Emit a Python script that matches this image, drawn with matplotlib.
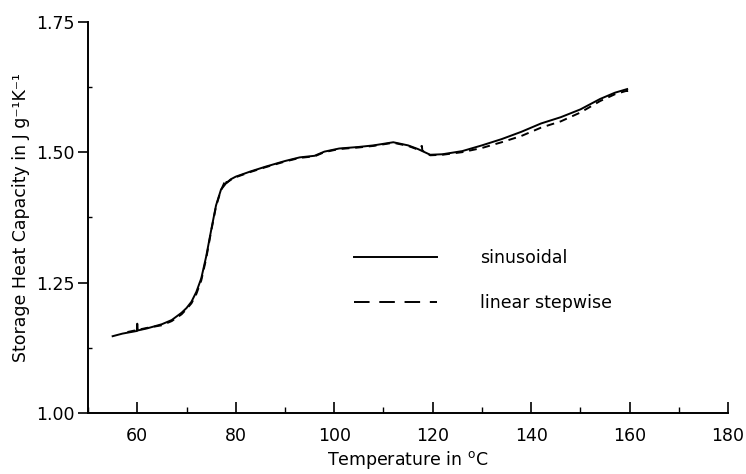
import matplotlib
matplotlib.use("Agg")
import matplotlib.pyplot as plt
from matplotlib.lines import Line2D
from matplotlib.ticker import MultipleLocator

# --- data ---
temp_sin = [55, 57, 59.9, 60, 60.1, 62, 65, 67, 69, 70, 71, 72, 73, 74, 75, 76, 77, 78,
            79, 80, 83, 86, 90, 93, 96, 98, 101, 105, 108, 112, 115, 117, 119.5, 122,
            126, 130, 134, 138, 142, 146, 150, 154, 157, 159.5]
cp_sin = [1.147, 1.152, 1.157, 1.171, 1.158, 1.162, 1.170, 1.178, 1.192, 1.201, 1.213,
          1.232, 1.258, 1.300, 1.350, 1.398, 1.428, 1.440, 1.448, 1.453, 1.463, 1.472,
          1.483, 1.490, 1.493, 1.501, 1.507, 1.510, 1.513, 1.519, 1.513, 1.506, 1.495,
          1.496, 1.502, 1.513, 1.525, 1.539, 1.555, 1.567, 1.582, 1.602, 1.614, 1.621]

temp_step = [58, 60, 62, 65, 67, 69, 70, 71, 72, 73, 74, 75, 76, 77, 78, 78.1, 79, 80,
             83, 86, 90, 93, 96, 98, 101, 105, 108, 112, 115, 117, 117.8, 117.9, 119.5,
             122, 126, 130, 134, 138, 142, 146, 150, 154, 157, 159.5, 159.6]
cp_step = [1.155, 1.159, 1.163, 1.168, 1.176, 1.189, 1.199, 1.210, 1.228, 1.254, 1.296,
           1.348, 1.396, 1.427, 1.448, 1.441, 1.447, 1.452, 1.462, 1.471, 1.482, 1.489,
           1.492, 1.500, 1.506, 1.509, 1.512, 1.518, 1.512, 1.505, 1.512, 1.503, 1.494,
           1.495, 1.500, 1.508, 1.519, 1.531, 1.547, 1.559, 1.576, 1.598, 1.611, 1.618,
           1.606]

labels = ["sinusoidal", "linear stepwise"]
xticks = [60, 80, 100, 120, 140, 160, 180]
yticks = [1.00, 1.25, 1.50, 1.75]

plt.rcParams['font.family'] = ['DejaVu Sans']
fig = plt.figure(figsize=(7.46, 4.74), dpi=100)
ax = fig.add_axes([0.118, 0.129, 0.858, 0.825])

ax.plot(temp_sin, cp_sin, color='black', lw=1.4, solid_joinstyle='round')
ax.plot(temp_step, cp_step, color='black', lw=1.4, dashes=(4, 3))

ax.set_xlim(50, 180)
ax.set_ylim(1.0, 1.75)
ax.set_xticks(xticks)
ax.set_yticks(yticks)
ax.set_yticklabels([f"{v:.2f}" for v in yticks])
ax.xaxis.set_minor_locator(MultipleLocator(10))
ax.yaxis.set_minor_locator(MultipleLocator(0.125))
ax.tick_params(axis='x', which='major', direction='in', length=8, width=1.2,
               labelsize=12.5, pad=10)
ax.tick_params(axis='x', which='minor', direction='in', length=4, width=1.0)
ax.tick_params(axis='y', which='major', direction='out', length=7, width=1.2,
               labelsize=12.5, pad=3)
ax.tick_params(axis='y', which='minor', direction='in', length=3, width=1.0)

for s in ['top', 'right']:
    ax.spines[s].set_visible(False)
for s in ['left', 'bottom']:
    ax.spines[s].set_linewidth(1.4)

ax.set_xlabel(r'Temperature in $^{\mathrm{o}}$C', fontsize=12.5, labelpad=3)
ax.set_ylabel('Storage Heat Capacity in J g\u207b\u00b9K\u207b\u00b9',
              fontsize=12.5, labelpad=4)

handles = [Line2D([], [], color='black', lw=1.4),
           Line2D([], [], color='black', lw=1.4, dashes=(8, 5))]
ax.legend(handles, labels, frameon=False, loc='upper left',
          bbox_to_anchor=(0.415, 0.42), fontsize=12.5, handlelength=4.8,
          handletextpad=2.5, labelspacing=1.6, borderpad=0, borderaxespad=0)

fig.savefig('out.png', dpi=100)
